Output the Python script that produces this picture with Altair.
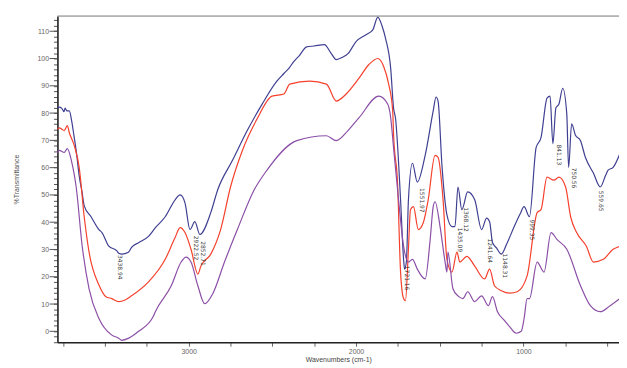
import altair as alt
import pandas as pd

# ---- data ----
blue_wn = [3784, 3770, 3755, 3745, 3738, 3728, 3713, 3700, 3686, 3672, 3654, 3636, 3624, 3583, 3536, 3518,
           3477, 3429, 3418, 3400, 3360, 3341, 3299, 3240, 3199, 3140, 3081, 3051, 3022, 2992, 2963, 2933,
           2868, 2827, 2738, 2650, 2561, 2473, 2431, 2400, 2372, 2340, 2295, 2250, 2189, 2150, 2118, 2080,
           2048, 2000, 1941, 1900, 1870, 1845, 1823, 1793, 1776, 1764, 1734, 1716, 1710, 1699, 1687, 1663,
           1634, 1587, 1539, 1522, 1510, 1486, 1457, 1427, 1409, 1391, 1368, 1333, 1291, 1250, 1220, 1202,
           1185, 1160, 1132, 1100, 1055, 1020, 996, 964, 924, 895, 859, 841, 824, 806, 788, 765, 741, 730,
           712, 690, 659, 630, 582, 541, 510, 494, 464, 423]
blue_t = [81.8, 82.2, 81.5, 80.5, 81.8, 80.8, 80.8, 77.5, 72.0, 66.3, 57.0, 50.7, 46.0, 42.0, 37.3, 36.2,
          31.2, 29.5, 28.6, 28.3, 29.0, 30.8, 32.5, 34.8, 38.0, 42.0, 48.2, 50.0, 47.1, 37.3, 40.2, 35.5,
          43.5, 51.8, 62.7, 73.6, 83.3, 91.7, 94.5, 96.5, 98.9, 101.0, 104.3, 104.6, 105.1, 102.0, 99.6, 100.5,
          101.8, 106.2, 108.7, 110.5, 115.2, 112.0, 107.2, 96.4, 81.9, 78.0, 48.2, 26.4, 22.8, 25.7, 48.2, 61.6,
          54.7, 64.5, 80.8, 85.9, 84.4, 60.1, 42.7, 38.4, 38.4, 52.9, 44.6, 51.1, 48.2, 37.3, 41.5, 40.2,
          32.6, 30.5, 28.3, 32.0, 38.4, 43.0, 45.7, 42.0, 67.4, 71.0, 85.5, 86.2, 68.8, 81.9, 83.3, 89.1, 79.7, 60.1,
          76.1, 72.0, 69.9, 63.8, 58.0, 52.9, 57.0, 59.1, 60.1, 65.2]

red_wn = [3784, 3772, 3755, 3743, 3725, 3713, 3683, 3654, 3624, 3595, 3536, 3494, 3459, 3418, 3380, 3341,
          3240, 3140, 3081, 3051, 3022, 2986, 2945, 2927, 2868, 2809, 2750, 2679, 2591, 2502, 2431, 2396,
          2277, 2177, 2118, 2059, 1982, 1923, 1870, 1835, 1805, 1781, 1776, 1752, 1734, 1716, 1705, 1687,
          1675, 1657, 1628, 1598, 1569, 1528, 1510, 1480, 1457, 1427, 1397, 1380, 1338, 1291, 1232, 1202,
          1173, 1132, 1080, 1037, 978, 918, 895, 859, 818, 788, 748, 718, 682, 624, 582, 523, 464, 423]
red_t = [74.0, 74.6, 74.0, 73.6, 75.4, 72.8, 68.0, 60.1, 42.0, 29.0, 17.0, 12.7, 12.0, 10.9, 11.5, 13.0,
         18.1, 26.4, 34.4, 38.0, 36.2, 30.1, 21.0, 23.9, 28.3, 37.3, 52.9, 66.3, 77.9, 86.2, 87.0, 90.6,
         91.7, 90.6, 84.4, 87.0, 92.8, 97.8, 100.0, 97.1, 90.6, 80.8, 72.5, 54.3, 21.7, 12.0, 11.2, 30.1,
         44.6, 45.7, 37.3, 39.9, 48.2, 64.5, 63.8, 48.2, 26.4, 21.7, 29.0, 25.4, 27.5, 23.9, 19.2, 22.8,
         16.7, 14.9, 14.0, 14.5, 20.3, 43.5, 44.6, 56.5, 55.4, 56.5, 52.9, 42.0, 36.2, 31.2, 25.4, 26.4,
         30.1, 31.2]

purple_wn = [3784, 3772, 3743, 3725, 3701, 3672, 3636, 3595, 3536, 3459, 3418, 3400, 3358, 3299, 3211,
             3199, 3104, 3045, 3016, 2986, 2945, 2904, 2856, 2786, 2709, 2609, 2532, 2354, 2177, 2118,
             2048, 1982, 1864, 1811, 1793, 1776, 1746, 1716, 1687, 1663, 1634, 1587, 1557, 1539, 1528,
             1498, 1468, 1457, 1451, 1421, 1391, 1362, 1333, 1291, 1250, 1209, 1185, 1155, 1114, 1084,
             1043, 1013, 996, 978, 964, 918, 877, 835, 800, 741, 659, 600, 541, 482, 423]
purple_t = [65.5, 66.3, 65.6, 67.0, 62.7, 52.9, 31.2, 15.6, 4.7, -1.4, -2.5, -3.3, -2.5, 0.0, 5.5,
            7.2, 16.7, 25.4, 27.2, 25.4, 16.7, 10.1, 13.8, 25.4, 37.3, 51.8, 59.1, 69.9, 71.7, 69.9,
            73.6, 78.3, 86.2, 83.3, 78.3, 67.4, 48.2, 31.2, 25.4, 26.4, 22.8, 19.2, 33.7, 45.7, 47.5,
            38.4, 25.4, 21.7, 29.0, 15.6, 13.0, 12.0, 14.5, 10.9, 13.0, 9.4, 12.7, 7.2, 4.0, 1.8,
            -0.7, 0.0, 4.7, 12.0, 12.0, 25.4, 21.7, 36.2, 33.7, 30.1, 16.7, 9.4, 7.2, 9.4, 12.0]

label_text = ["3438.94", "2922.52", "2852.71", "1721.16", "1551.97", "1435.09", "1368.12",
              "1241.64", "1148.31", "999.35", "841.13", "750.56", "559.65"]
label_wn = [3412, 2957, 2916, 1693, 1604, 1380, 1344, 1202, 1108, 950, 788, 700, 535]
label_t = [28.0, 35.0, 33.0, 24.0, 52.5, 38.0, 45.5, 34.0, 28.5, 41.0, 68.5, 60.0, 51.5]

x_minor_ticks = list(range(500, 3751, 250))
y_major_ticks = list(range(0, 111, 10))
y_minor_ticks = list(range(-4, 116, 2))

series_names = ["A", "B", "C"]
series_colors = ["#3f3f92", "#f5402c", "#8b4fa6"]

rows = []
for name, wns, ts in [("A", blue_wn, blue_t), ("B", red_wn, red_t), ("C", purple_wn, purple_t)]:
    for w, t in zip(wns, ts):
        rows.append({"wn": w, "t": t, "series": name})
df = pd.DataFrame(rows)
labels_df = pd.DataFrame({"text": label_text, "wn": label_wn, "t": label_t})
major_df = pd.DataFrame({"t": y_major_ticks})

W, H = 568, 330
FONT = "Arial"
xscale = alt.Scale(domain=[3784, 429], nice=False, zero=False)
yscale = alt.Scale(domain=[-4, 115.6], nice=False, zero=False)

xaxis = alt.Axis(
    title="Wavenumbers (cm-1)", values=x_minor_ticks,
    labelExpr="datum.value % 1000 === 0 ? format(datum.value, 'd') : ''",
    labelOverlap=False,
    grid=False, tickSize=4, labelPadding=1, labelFontSize=7, labelColor="#666",
    titleFontSize=7, titleFontWeight="normal", titleColor="#444", titlePadding=1,
    domainColor="#222", domainWidth=1.6, tickColor="#666", labelFont=FONT, titleFont=FONT)

yaxis = alt.Axis(
    title="%Transmittance", values=y_minor_ticks,
    labelExpr="datum.value % 10 === 0 && datum.value >= 0 && datum.value <= 110 ? format(datum.value, 'd') : ''",
    labelOverlap=False, tickSize=4,
    grid=False, labelPadding=5, labelFontSize=7, labelColor="#666",
    titleFontSize=7, titleFontWeight="normal", titleColor="#555", titlePadding=18,
    domainColor="#222", domainWidth=1.6, tickColor="#555", labelFont=FONT, titleFont=FONT)

X = alt.X("wn:Q", scale=xscale, axis=xaxis)
Y = alt.Y("t:Q", scale=yscale, axis=yaxis)

lines = alt.Chart(df).mark_line(strokeWidth=1.2, interpolate="monotone").encode(
    x=X, y=Y,
    color=alt.Color("series:N", scale=alt.Scale(domain=series_names, range=series_colors), legend=None),
    detail="series:N",
)

# longer tick marks at the labelled (major) y values
major_ticks = alt.Chart(major_df).mark_rule(color="#555", strokeWidth=1).encode(
    y=Y, x=alt.value(-8), x2=alt.value(0),
)

texts = alt.Chart(labels_df).mark_text(
    angle=90, align="left", baseline="middle", fontSize=6, color="#333", font="DejaVu Sans"
).encode(x=X, y=Y, text="text:N")

top_border = alt.Chart(pd.DataFrame({"a": [0]})).mark_rule(color="#888", strokeWidth=1.2).encode(
    x=alt.value(0), x2=alt.value(W), y=alt.value(0)
)

chart = alt.layer(lines, major_ticks, texts, top_border).properties(
    width=W, height=H,
    autosize=alt.AutoSizeParams(type="none"),
    padding={"left": 50, "top": 6, "right": 0, "bottom": 24},
).configure_view(stroke=None).configure(background="white")

chart.save("out.html", embed_options={"renderer": "svg", "actions": False})
